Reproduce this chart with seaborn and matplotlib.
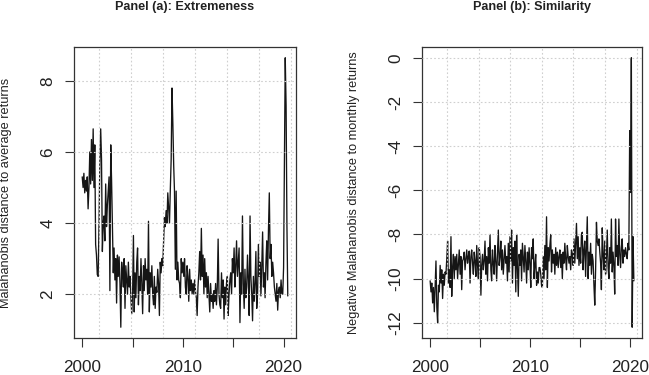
import numpy as np
import pandas as pd
import matplotlib
matplotlib.use("Agg")
import matplotlib.pyplot as plt
import seaborn as sns

# monthly values, Jan 2000 .. Jun 2020
extremeness = [
    5.3, 5.0, 5.4, 4.85, 5.2, 4.9, 5.3, 4.4, 5.0, 6.0, 5.1, 6.35,
    5.2, 6.65, 5.0, 6.2, 3.4, 3.1, 2.55, 2.5, 4.0, 5.65, 6.65, 5.8,
    3.2, 4.0, 4.2, 3.5, 5.1, 3.9, 4.5, 4.9, 5.3, 2.1, 6.2, 5.2,
    3.9, 2.6, 3.3, 2.4, 3.0, 1.75, 3.1, 2.5, 3.05, 2.3, 1.07, 2.9,
    2.6, 2.2, 3.0, 1.6, 2.8, 2.4, 2.0, 2.9, 2.2, 2.5, 1.9, 1.45,
    2.0, 3.65, 1.5, 2.6, 1.9, 2.9, 3.3, 1.7, 2.5, 2.1, 3.0, 2.3,
    1.45, 2.8, 2.1, 3.0, 2.4, 2.7, 2.0, 4.05, 1.5, 2.6, 2.2, 2.8,
    2.0, 1.7, 2.5, 1.6, 2.2, 2.05, 2.7, 2.3, 1.4, 2.9, 2.6, 3.0,
    2.8, 3.5, 4.15, 3.9, 4.35, 4.0, 4.85, 4.4, 4.0, 4.95, 5.8, 7.8,
    6.8, 5.6, 4.9, 2.7, 4.9, 2.4, 2.9, 2.4, 2.3, 1.9, 3.0, 2.6,
    2.9, 2.5, 3.0, 2.2, 2.0, 2.8, 2.5, 1.8, 2.7, 2.1, 2.4, 2.0,
    2.3, 2.0, 2.4, 2.1, 1.9, 1.4, 2.2, 2.6, 3.2, 2.4, 3.85, 2.5,
    3.1, 2.0, 3.0, 2.2, 2.6, 1.9, 2.5, 2.0, 1.5, 2.3, 1.8, 2.0,
    1.6, 2.1, 1.8, 2.3, 1.7, 2.2, 3.55, 2.0, 1.7, 1.6, 2.6, 1.9,
    2.4, 1.3, 2.2, 1.7, 2.3, 2.5, 1.4, 2.0, 2.4, 2.6, 2.0, 3.0,
    2.6, 3.3, 2.2, 2.8, 3.5, 2.5, 2.9, 3.3, 1.2, 2.6, 2.0, 4.2,
    2.3, 1.6, 2.7, 1.9, 2.2, 3.1, 2.4, 1.4, 4.2, 2.5, 2.0, 1.25,
    2.5, 1.8, 2.3, 3.2, 1.6, 2.0, 3.4, 2.5, 2.9, 1.95, 2.8, 3.75,
    2.2, 2.6, 1.9, 2.9, 3.5, 2.4, 3.8, 4.85, 3.0, 3.4, 2.5, 2.9,
    2.6, 2.2, 2.0, 1.8, 2.3, 1.55, 2.1, 2.2, 1.9, 2.4, 2.0, 2.0,
    2.75, 5.8, 8.65, 7.3, 3.95, 1.95,
]

similarity = [
    -10.1, -10.6, -10.2, -11.1, -10.4, -11.5, -10.3, -9.2, -11.3, -12.0, -10.3, -10.6,
    -9.4, -10.2, -9.6, -10.9, -9.8, -10.3, -9.7, -9.8, -9.1, -8.3, -10.2, -9.6,
    -10.4, -8.1, -10.8, -9.5, -8.9, -10.0, -9.0, -9.6, -8.9, -10.0, -9.3, -8.7,
    -9.8, -9.0, -10.5, -9.2, -9.1, -8.8, -9.6, -9.1, -8.7, -9.3, -9.0, -8.75,
    -10.2, -9.0, -8.7, -9.3, -9.8, -8.8, -9.2, -9.9, -8.5, -9.4, -10.0, -8.6,
    -9.0, -10.75, -9.4, -8.9, -9.6, -9.2, -8.3, -9.8, -9.0, -10.1, -8.6, -9.3,
    -8.0, -9.6, -10.1, -8.7, -9.3, -9.8, -8.5, -9.2, -10.1, -8.8, -7.8, -9.4,
    -9.0, -8.3, -9.6, -8.7, -9.8, -9.1, -8.5, -9.3, -9.0, -10.1, -8.4, -9.7,
    -8.1, -9.2, -7.8, -10.2, -8.6, -9.4, -8.3, -10.6, -8.0, -9.5, -10.8, -8.9,
    -9.4, -8.7, -10.1, -8.4, -9.0, -9.7, -8.5, -9.2, -10.2, -8.8, -9.6, -8.6,
    -9.3, -10.4, -8.6, -9.1, -8.2, -10.0, -9.4, -8.9, -10.3, -9.7, -10.2, -9.5,
    -9.5, -9.8, -10.3, -10.4, -9.0, -10.0, -8.5, -9.6, -7.2, -10.4, -8.6, -9.2,
    -8.5, -8.0, -9.7, -8.7, -9.3, -8.9, -9.8, -8.6, -9.4, -8.8, -9.5, -9.0,
    -8.7, -9.5, -8.9, -10.0, -8.8, -9.3, -8.4, -9.1, -9.6, -8.5, -9.0, -9.3,
    -9.0, -9.6, -8.7, -8.9, -9.4, -8.2, -9.3, -8.4, -7.5, -9.1, -8.1, -9.4,
    -8.6, -9.3, -8.0, -7.9, -9.6, -8.7, -8.3, -9.9, -8.5, -7.2, -10.0, -8.8,
    -9.4, -8.4, -9.8, -8.9, -9.2, -10.3, -11.2, -9.6, -7.45, -8.3, -8.5, -8.2,
    -8.8, -9.3, -10.5, -7.7, -8.9, -9.6, -8.3, -9.8, -9.0, -7.8, -9.5, -10.0,
    -8.6, -9.3, -7.3, -9.7, -8.8, -9.4, -10.7, -7.3, -9.0, -8.5, -9.4, -7.3,
    -8.9, -9.5, -8.6, -8.2, -9.3, -8.7, -9.0, -8.6, -8.9, -9.1, -8.4, -8.7,
    -3.3, -6.1, 0.0, -12.2, -8.1, -10.1,
]

titles = ["Panel (a): Extremeness", "Panel (b): Similarity"]
ylabels = ["Malahanobis distance to average returns",
           "Negative Malahanobis distance to monthly returns"]
yticks = [[2, 4, 6, 8], [-12, -10, -8, -6, -4, -2, 0]]
xtick_years = [2000, 2005, 2010, 2015, 2020]
xtick_labels = ["2000", "", "2010", "", "2020"]

dates = pd.date_range("2000-01-01", periods=len(extremeness), freq="MS")

sns.set_style("white")
plt.rcParams["font.family"] = ["Liberation Sans", "DejaVu Sans"]
plt.rcParams["axes.unicode_minus"] = False

W, H = 649, 375
fig = plt.figure(figsize=(W / 100, H / 100), dpi=100)
boxes = [(74, 47, 296, 338), (422, 47, 642, 338)]

# vertical grid sits on pretty() of POSIX seconds (every 1e8 s)
grid_x = pd.to_datetime(np.arange(10, 17) * 1e8, unit="s")


def expand(lo, hi):
    d = (hi - lo) * 0.04
    return lo - d, hi + d


for k, series in enumerate([extremeness, similarity]):
    x0, y0, x1, y1 = boxes[k]
    ax = fig.add_axes([x0 / W, 1 - y1 / H, (x1 - x0) / W, (y1 - y0) / H])
    df = pd.DataFrame({"date": dates, "value": series})
    sns.lineplot(data=df, x="date", y="value", ax=ax, color="#151515",
                 linewidth=0.95, estimator=None)

    t0 = matplotlib.dates.date2num(dates[0])
    t1 = matplotlib.dates.date2num(dates[-1])
    ax.set_xlim(*expand(t0, t1))
    ax.set_ylim(*expand(min(series), max(series)))

    for g in grid_x:
        ax.axvline(g, color="#cfcfcf", linestyle=(0, (1.5, 2)), linewidth=0.8, zorder=3)
    for yt in yticks[k]:
        ax.axhline(yt, color="#cfcfcf", linestyle=(0, (1.5, 2)), linewidth=0.8, zorder=3)

    ax.set_xticks([pd.Timestamp(f"{y}-01-01") for y in xtick_years])
    ax.set_xticklabels(xtick_labels)
    ax.set_yticks(yticks[k])
    ax.set_yticklabels([str(v) for v in yticks[k]], rotation=90, va="center")
    ax.tick_params(axis="both", length=6.5, width=0.8, color="#333333",
                   labelsize=12.3, labelcolor="#222222", direction="out")
    ax.tick_params(axis="x", pad=9.5)
    ax.tick_params(axis="y", pad=7)
    ax.tick_params(left=True, bottom=True)

    for s in ax.spines.values():
        s.set_color("#333333")
        s.set_linewidth(0.9)

    ax.set_xlabel("")
    ax.set_ylabel(ylabels[k], fontsize=9.2, color="#222222", va="center")
    ax.yaxis.set_label_coords(-68 / (x1 - x0), 0.5)

    fig.text((x0 + x1) / 2 / W, 1 - 7 / H, titles[k], ha="center", va="center",
             fontsize=9.1, fontweight="bold", color="#222222")

fig.savefig("out.png", dpi=100)
